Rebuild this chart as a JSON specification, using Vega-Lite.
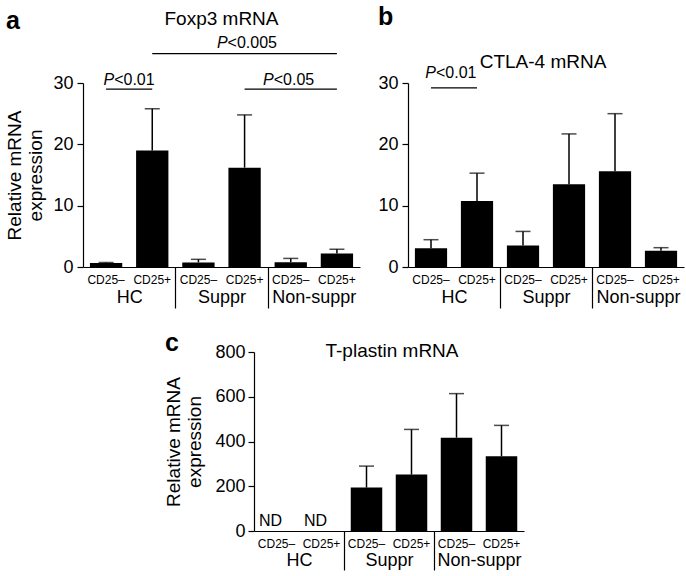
{
  "$schema": "https://vega.github.io/schema/vega-lite/v6.json",
  "background": "white",
  "config": {
    "font": "Liberation Sans",
    "view": {"stroke": null},
    "axis": {"domainColor": "black", "tickColor": "black", "labelColor": "black", "titleColor": "black", "grid": false, "domainWidth": 1.2, "tickWidth": 1.2},
    "text": {"color": "black", "font": "Liberation Sans"},
    "title": {"color": "black", "font": "Liberation Sans"}
  },
  "datasets": {
    "a": [
      {"id": "HC|CD25–", "grp": "HC", "mean": 0.65, "hi": 0.75},
      {"id": "HC|CD25+", "grp": "HC", "mean": 19.0, "hi": 25.8},
      {"id": "Suppr|CD25–", "grp": "Suppr", "mean": 0.75, "hi": 1.25},
      {"id": "Suppr|CD25+", "grp": "Suppr", "mean": 16.2, "hi": 24.8},
      {"id": "Non-suppr|CD25–", "grp": "Non-suppr", "mean": 0.77, "hi": 1.4},
      {"id": "Non-suppr|CD25+", "grp": "Non-suppr", "mean": 2.2, "hi": 2.9}
    ],
    "b": [
      {"id": "HC|CD25–", "grp": "HC", "mean": 3.05, "hi": 4.45},
      {"id": "HC|CD25+", "grp": "HC", "mean": 10.76, "hi": 15.3},
      {"id": "Suppr|CD25–", "grp": "Suppr", "mean": 3.5, "hi": 5.8},
      {"id": "Suppr|CD25+", "grp": "Suppr", "mean": 13.5, "hi": 21.7},
      {"id": "Non-suppr|CD25–", "grp": "Non-suppr", "mean": 15.6, "hi": 25.0},
      {"id": "Non-suppr|CD25+", "grp": "Non-suppr", "mean": 2.66, "hi": 3.15}
    ],
    "c": [
      {"id": "HC|CD25–", "grp": "HC", "mean": null, "hi": null},
      {"id": "HC|CD25+", "grp": "HC", "mean": null, "hi": null},
      {"id": "Suppr|CD25–", "grp": "Suppr", "mean": 194, "hi": 290},
      {"id": "Suppr|CD25+", "grp": "Suppr", "mean": 252, "hi": 454},
      {"id": "Non-suppr|CD25–", "grp": "Non-suppr", "mean": 417, "hi": 614},
      {"id": "Non-suppr|CD25+", "grp": "Non-suppr", "mean": 334, "hi": 472}
    ]
  },
  "spacing": 22,
  "vconcat": [
    {
      "spacing": 17,
      "hconcat": [
        {
          "width": 277, "height": 184,
          "title": {"text": "a", "anchor": "start", "frame": "bounds", "fontSize": 25, "fontWeight": "bold", "offset": -24},
          "layer": [
            {
              "layer": [
                {"data": {"name": "a"}, "mark": {"type": "bar", "color": "black"},
                 "encoding": {
                   "x": {"field": "id", "type": "nominal", "scale": {"domain": ["HC|CD25–", "HC|CD25+", "Suppr|CD25–", "Suppr|CD25+", "Non-suppr|CD25–", "Non-suppr|CD25+"], "paddingInner": 0.3, "paddingOuter": 0.15},
                         "axis": {"title": null, "ticks": false, "labelExpr": "split(datum.value, '|')[1]", "labelAngle": 0, "labelFontSize": 12, "labelPadding": 7}},
                   "y": {"field": "mean", "type": "quantitative", "scale": {"domain": [0, 30], "nice": false},
                         "axis": {"values": [0, 10, 20, 30], "title": ["Relative mRNA", "expression"], "titleFontSize": 19, "titleFontWeight": "normal", "titlePadding": 7, "titleLineHeight": 21, "labelFontSize": 18, "labelPadding": 4, "tickSize": 6}}
                 }},
                {"data": {"name": "a"}, "mark": {"type": "rule", "color": "black", "strokeWidth": 1.5},
                 "encoding": {"x": {"field": "id", "type": "nominal"}, "y": {"field": "mean", "type": "quantitative"}, "y2": {"field": "hi"}}},
                {"data": {"name": "a"}, "mark": {"type": "tick", "color": "black", "size": 15, "thickness": 1.5},
                 "encoding": {"x": {"field": "id", "type": "nominal"}, "y": {"field": "hi", "type": "quantitative"}}},
                {"data": {"values": [
                   {"x1": "HC|CD25–", "x2": "HC|CD25+", "y": 29.0},
                   {"x1": "Suppr|CD25+", "x2": "Non-suppr|CD25+", "y": 29.0},
                   {"x1": "HC|CD25+", "x2": "Non-suppr|CD25+", "y": 34.8}
                 ]},
                 "mark": {"type": "rule", "color": "black", "strokeWidth": 1.2},
                 "encoding": {"x": {"field": "x1", "type": "nominal"}, "x2": {"field": "x2"}, "y": {"field": "y", "type": "quantitative"}}},
                {"data": {"values": [{"x": "HC|CD25–", "y": 29.7}]},
                 "mark": {"type": "text", "text": "P", "fontStyle": "italic", "align": "right", "dx": -15, "baseline": "alphabetic", "fontSize": 16},
                 "encoding": {"x": {"field": "x", "type": "nominal", "bandPosition": 1.2143}, "y": {"field": "y", "type": "quantitative"}}},
                {"data": {"values": [{"x": "HC|CD25–", "y": 29.7}]},
                 "mark": {"type": "text", "text": "<0.01", "align": "left", "dx": -15, "baseline": "alphabetic", "fontSize": 16},
                 "encoding": {"x": {"field": "x", "type": "nominal", "bandPosition": 1.2143}, "y": {"field": "y", "type": "quantitative"}}},
                {"data": {"values": [{"x": "Non-suppr|CD25–", "y": 29.7, "rest": "<0.05"}, {"x": "Suppr|CD25+", "y": 35.7, "rest": "<0.005"}]},
                 "mark": {"type": "text", "text": "P", "fontStyle": "italic", "align": "right", "dx": -17, "baseline": "alphabetic", "fontSize": 16},
                 "encoding": {"x": {"field": "x", "type": "nominal"}, "y": {"field": "y", "type": "quantitative"}}},
                {"data": {"values": [{"x": "Non-suppr|CD25–", "y": 29.7, "rest": "<0.05"}, {"x": "Suppr|CD25+", "y": 35.7, "rest": "<0.005"}]},
                 "mark": {"type": "text", "align": "left", "dx": -17, "baseline": "alphabetic", "fontSize": 16},
                 "encoding": {"x": {"field": "x", "type": "nominal"}, "y": {"field": "y", "type": "quantitative"}, "text": {"field": "rest"}}},
                {"data": {"values": [{"x": "Suppr|CD25–", "y": 39.5, "t": "Foxp3 mRNA"}]},
                 "mark": {"type": "text", "align": "center", "baseline": "alphabetic", "fontSize": 19},
                 "encoding": {"x": {"field": "x", "type": "nominal", "bandPosition": 1.2143}, "y": {"field": "y", "type": "quantitative"}, "text": {"field": "t"}}}
              ]
            },
            {"data": {"name": "a"}, "mark": {"type": "text", "text": ""},
             "encoding": {"x": {"field": "grp", "type": "nominal", "scale": {"domain": ["HC", "Suppr", "Non-suppr"], "paddingInner": 0, "paddingOuter": 0},
               "axis": {"orient": "bottom", "title": null, "domain": false, "ticks": true, "tickBand": "extent", "tickSize": 41, "tickWidth": 1.2,
                        "tickOpacity": {"condition": {"test": "datum.value === 'Non-suppr' || datum.extra", "value": 0}, "value": 1},
                        "labelFontSize": 18, "labelPadding": -20, "labelAngle": 0}}}}
          ],
          "resolve": {"scale": {"x": "independent"}, "axis": {"x": "independent"}}
        },
        {
          "width": 276, "height": 184,
          "title": {"text": "b", "anchor": "start", "frame": "bounds", "fontSize": 25, "fontWeight": "bold", "offset": 23},
          "layer": [
            {
              "layer": [
                {"data": {"name": "b"}, "mark": {"type": "bar", "color": "black"},
                 "encoding": {
                   "x": {"field": "id", "type": "nominal", "scale": {"domain": ["HC|CD25–", "HC|CD25+", "Suppr|CD25–", "Suppr|CD25+", "Non-suppr|CD25–", "Non-suppr|CD25+"], "paddingInner": 0.3, "paddingOuter": 0.15},
                         "axis": {"title": null, "ticks": false, "labelExpr": "split(datum.value, '|')[1]", "labelAngle": 0, "labelFontSize": 12, "labelPadding": 7}},
                   "y": {"field": "mean", "type": "quantitative", "scale": {"domain": [0, 30], "nice": false},
                         "axis": {"values": [0, 10, 20, 30], "title": null, "labelFontSize": 18, "labelPadding": 4, "tickSize": 6}}
                 }},
                {"data": {"name": "b"}, "mark": {"type": "rule", "color": "black", "strokeWidth": 1.5},
                 "encoding": {"x": {"field": "id", "type": "nominal"}, "y": {"field": "mean", "type": "quantitative"}, "y2": {"field": "hi"}}},
                {"data": {"name": "b"}, "mark": {"type": "tick", "color": "black", "size": 15, "thickness": 1.5},
                 "encoding": {"x": {"field": "id", "type": "nominal"}, "y": {"field": "hi", "type": "quantitative"}}},
                {"data": {"values": [{"x1": "HC|CD25–", "x2": "HC|CD25+", "y": 29.2}]},
                 "mark": {"type": "rule", "color": "black", "strokeWidth": 1.2},
                 "encoding": {"x": {"field": "x1", "type": "nominal"}, "x2": {"field": "x2"}, "y": {"field": "y", "type": "quantitative"}}},
                {"data": {"values": [{"x": "HC|CD25–", "y": 30.8}]},
                 "mark": {"type": "text", "text": "P", "fontStyle": "italic", "align": "right", "dx": -18, "baseline": "alphabetic", "fontSize": 16},
                 "encoding": {"x": {"field": "x", "type": "nominal", "bandPosition": 1.2143}, "y": {"field": "y", "type": "quantitative"}}},
                {"data": {"values": [{"x": "HC|CD25–", "y": 30.8}]},
                 "mark": {"type": "text", "text": "<0.01", "align": "left", "dx": -18, "baseline": "alphabetic", "fontSize": 16},
                 "encoding": {"x": {"field": "x", "type": "nominal", "bandPosition": 1.2143}, "y": {"field": "y", "type": "quantitative"}}},
                {"data": {"values": [{"x": "Suppr|CD25–", "y": 32.4, "t": "CTLA-4 mRNA"}]},
                 "mark": {"type": "text", "align": "center", "baseline": "alphabetic", "fontSize": 19, "dx": -3},
                 "encoding": {"x": {"field": "x", "type": "nominal", "bandPosition": 1.2143}, "y": {"field": "y", "type": "quantitative"}, "text": {"field": "t"}}}
              ]
            },
            {"data": {"name": "b"}, "mark": {"type": "text", "text": ""},
             "encoding": {"x": {"field": "grp", "type": "nominal", "scale": {"domain": ["HC", "Suppr", "Non-suppr"], "paddingInner": 0, "paddingOuter": 0},
               "axis": {"orient": "bottom", "title": null, "domain": false, "ticks": true, "tickBand": "extent", "tickSize": 41, "tickWidth": 1.2,
                        "tickOpacity": {"condition": {"test": "datum.value === 'Non-suppr' || datum.extra", "value": 0}, "value": 1},
                        "labelFontSize": 18, "labelPadding": -20, "labelAngle": 0}}}}
          ],
          "resolve": {"scale": {"x": "independent"}, "axis": {"x": "independent"}}
        }
      ]
    },
    {
      "spacing": 0,
      "hconcat": [
        {
          "width": 81, "height": 1,
          "data": {"values": []},
          "mark": {"type": "text", "text": ""}
        },
        {
          "width": 270, "height": 179,
          "title": {"text": "c", "anchor": "start", "frame": "bounds", "fontSize": 25, "fontWeight": "bold", "offset": -14},
          "layer": [
            {
              "layer": [
                {"data": {"name": "c"}, "mark": {"type": "bar", "color": "black"},
                 "encoding": {
                   "x": {"field": "id", "type": "nominal", "scale": {"domain": ["HC|CD25–", "HC|CD25+", "Suppr|CD25–", "Suppr|CD25+", "Non-suppr|CD25–", "Non-suppr|CD25+"], "paddingInner": 0.3, "paddingOuter": 0.15},
                         "axis": {"title": null, "ticks": false, "labelExpr": "split(datum.value, '|')[1]", "labelAngle": 0, "labelFontSize": 12, "labelPadding": 7}},
                   "y": {"field": "mean", "type": "quantitative", "scale": {"domain": [0, 800], "nice": false},
                         "axis": {"values": [0, 200, 400, 600, 800], "title": ["Relative mRNA", "expression"], "titleFontSize": 19, "titleFontWeight": "normal", "titlePadding": 10, "titleLineHeight": 21, "labelFontSize": 18, "labelPadding": 3, "tickSize": 6}}
                 }},
                {"data": {"name": "c"}, "mark": {"type": "rule", "color": "black", "strokeWidth": 1.5},
                 "encoding": {"x": {"field": "id", "type": "nominal"}, "y": {"field": "mean", "type": "quantitative"}, "y2": {"field": "hi"}}},
                {"data": {"name": "c"}, "mark": {"type": "tick", "color": "black", "size": 15, "thickness": 1.5},
                 "encoding": {"x": {"field": "id", "type": "nominal"}, "y": {"field": "hi", "type": "quantitative"}}},
                {"data": {"values": [{"x": "HC|CD25–", "y": 22, "t": "ND"}, {"x": "HC|CD25+", "y": 22, "t": "ND"}]},
                 "mark": {"type": "text", "align": "center", "baseline": "alphabetic", "fontSize": 16, "dx": -6},
                 "encoding": {"x": {"field": "x", "type": "nominal"}, "y": {"field": "y", "type": "quantitative"}, "text": {"field": "t"}}},
                {"data": {"values": [{"x": "Suppr|CD25–", "y": 776, "t": "T-plastin mRNA"}]},
                 "mark": {"type": "text", "align": "center", "baseline": "alphabetic", "fontSize": 19, "dx": 3},
                 "encoding": {"x": {"field": "x", "type": "nominal", "bandPosition": 1.2143}, "y": {"field": "y", "type": "quantitative"}, "text": {"field": "t"}}}
              ]
            },
            {"data": {"name": "c"}, "mark": {"type": "text", "text": ""},
             "encoding": {"x": {"field": "grp", "type": "nominal", "scale": {"domain": ["HC", "Suppr", "Non-suppr"], "paddingInner": 0, "paddingOuter": 0},
               "axis": {"orient": "bottom", "title": null, "domain": false, "ticks": true, "tickBand": "extent", "tickSize": 39, "tickWidth": 1.2,
                        "tickOpacity": {"condition": {"test": "datum.value === 'Non-suppr' || datum.extra", "value": 0}, "value": 1},
                        "labelFontSize": 18, "labelPadding": -19, "labelAngle": 0}}}}
          ],
          "resolve": {"scale": {"x": "independent"}, "axis": {"x": "independent"}}
        }
      ]
    }
  ]
}
